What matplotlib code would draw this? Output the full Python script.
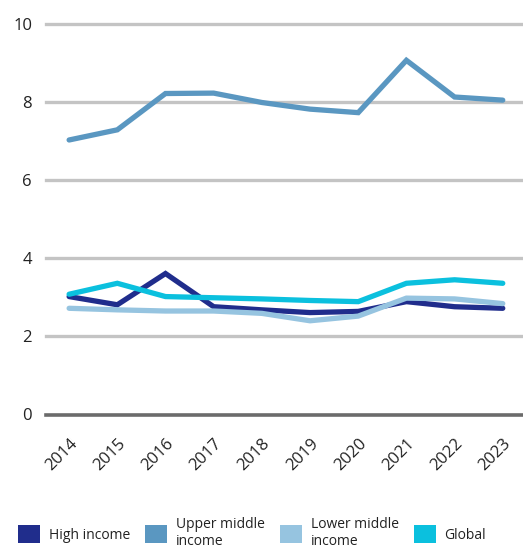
import matplotlib.pyplot as plt
from matplotlib.patches import Patch

plt.rcParams['font.family'] = ['Open Sans', 'DejaVu Sans']

years = [2014, 2015, 2016, 2017, 2018, 2019, 2020, 2021, 2022, 2023]
high_income = [3.02, 2.81, 3.61, 2.76, 2.68, 2.61, 2.64, 2.89, 2.76, 2.72]
upper_middle = [7.03, 7.29, 8.22, 8.23, 7.99, 7.82, 7.73, 9.07, 8.13, 8.05]
lower_middle = [2.72, 2.68, 2.65, 2.65, 2.59, 2.40, 2.52, 2.98, 2.96, 2.84]
global_avg = [3.08, 3.36, 3.02, 2.99, 2.96, 2.92, 2.89, 3.36, 3.45, 3.36]

names = ["High income", "Upper middle\nincome", "Lower middle\nincome", "Global"]
colors = ["#202d8c", "#5a97c1", "#96c4e0", "#0bc0de"]
series = [high_income, upper_middle, lower_middle, global_avg]

fig = plt.figure(figsize=(5.23, 5.51), dpi=100)
ax = fig.add_axes([46 / 523, 1 - 414.5 / 551, 1 - 46 / 523, (414.5 - 24) / 551])

for yv in [2, 4, 6, 8, 10]:
    ax.axhline(yv, color="#c4c4c4", lw=2.4, zorder=1, clip_on=False)
ax.axhline(0, color="#6b6b6b", lw=2.6, zorder=1, clip_on=False)

# draw order so global sits on top like the original
order = [1, 0, 2, 3]
for i in order:
    ax.plot(years, series[i], color=colors[i], lw=3.8, zorder=3,
            solid_capstyle="round", solid_joinstyle="miter", clip_on=False)

ax.set_xlim(2013.52, 2023.42)
ax.set_ylim(0, 10)
ax.set_yticks([0, 2, 4, 6, 8, 10])
ax.set_xticks(years)
ax.set_xticklabels([str(y) for y in years], rotation=45, ha="right",
                   va="top", rotation_mode="anchor")
ax.tick_params(axis="both", length=0, labelsize=12, colors="#222222")
ax.tick_params(axis="y", pad=10)
ax.tick_params(axis="x", pad=15)
for s in ax.spines.values():
    s.set_visible(False)

handles = [Patch(facecolor=c, edgecolor="none") for c in colors]
fig.legend(handles, names, loc="center", bbox_to_anchor=(0.482, 0.032), ncol=4,
           frameon=False, fontsize=10, handlelength=1.6, handleheight=1.6,
           handletextpad=0.6, columnspacing=1.1, labelcolor="#222222",
           borderpad=0.2)

fig.savefig("out.png", dpi=100)
